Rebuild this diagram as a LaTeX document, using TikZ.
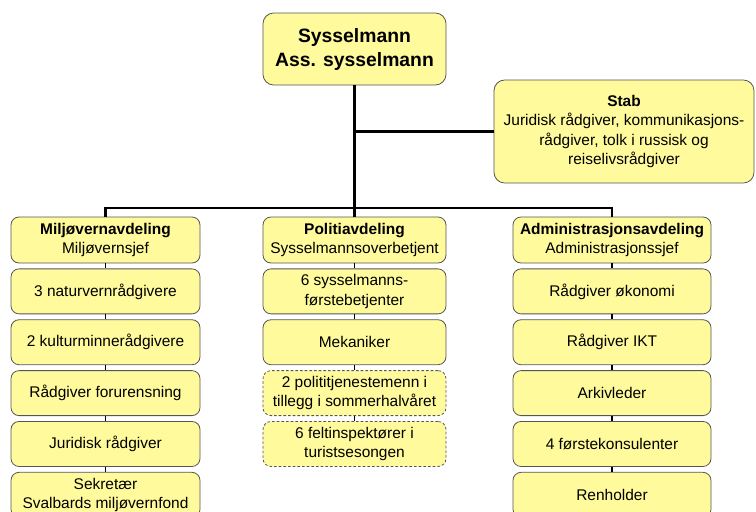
\documentclass[tikz,border=0pt]{standalone}
\usepackage{fontspec}
\setmainfont{Liberation Sans}
\usetikzlibrary{positioning}
\definecolor{boxyellow}{RGB}{255,250,155}
\definecolor{boxline}{RGB}{85,85,85}
\tikzset{
thick,
node distance=3.8pt,
every node/.style={font=\fontsize{11.6}{14.6}\selectfont},
}

\begin{document}
\begin{tikzpicture}
    [x=0.75pt, y=-0.75pt,
    block/.style={rectangle, rounded corners=6pt, draw=boxline, line width=0.6pt, fill=boxyellow, align=center, inner sep=1.5pt, minimum height=33.75pt},
    leftbox/.style={block, minimum width=141.75pt},
    midbox/.style={block, minimum width=137.25pt},
    rightbox/.style={block, minimum width=148.5pt},
    head/.style={minimum height=34.5pt},
    extra/.style={dash pattern=on 2pt off 1.5pt},
    trunk/.style={line width=1.6pt},
    link/.style={line width=1.1pt}
    ]

    \useasboundingbox (0,0) rectangle (756,511);
    \clip (0,0) rectangle (756,511);

    % top of the chart
    \node [block, rounded corners=8pt, minimum width=137.25pt, minimum height=54pt,
        font=\fontsize{14.5}{18}\selectfont\bfseries] (chief) at (354.5,49)
    {
        Sysselmann
        \\
        Ass. sysselmann
    };

    \node [block, rounded corners=8pt, minimum width=195pt, minimum height=77.25pt] (stab) at (624,131.5)
    {
        \textbf{Stab}
        \\
        Juridisk rådgiver, kommunikasjons-
        \\
        rådgiver, tolk i russisk og
        \\
        reiselivsrådgiver
    };

    % departments
    \node [leftbox, head] (milj) at (105.5,240)
    {
        \textbf{Miljøvernavdeling}
        \\
        Miljøvernsjef
    };

    \node [midbox, head] (poli) at (354.5,240)
    {
        \textbf{Politiavdeling}
        \\
        Sysselmannsoverbetjent
    };

    \node [rightbox, head] (adm) at (612,240)
    {
        \textbf{Administrasjonsavdeling}
        \\
        Administrasjonssjef
    };

    % Miljøvernavdeling
    \node [leftbox] (milj1) [below=of milj] {3 naturvernrådgivere};
    \node [leftbox] (milj2) [below=of milj1] {2 kulturminnerådgivere};
    \node [leftbox] (milj3) [below=of milj2] {Rådgiver forurensning};
    \node [leftbox] (milj4) [below=of milj3] {Juridisk rådgiver};
    \node [leftbox] (milj5) [below=of milj4]
    {
        Sekretær
        \\
        Svalbards miljøvernfond
    };

    % Politiavdeling
    \node [midbox] (poli1) [below=of poli]
    {
        6 sysselmanns-
        \\
        førstebetjenter
    };
    \node [midbox] (poli2) [below=of poli1] {Mekaniker};
    \node [midbox, extra] (poli3) [below=of poli2]
    {
        2 polititjenestemenn i
        \\
        tillegg i sommerhalvåret
    };
    \node [midbox, extra] (poli4) [below=of poli3]
    {
        6 feltinspektører i
        \\
        turistsesongen
    };

    % Administrasjonsavdeling
    \node [rightbox] (adm1) [below=of adm] {Rådgiver økonomi};
    \node [rightbox] (adm2) [below=of adm1] {Rådgiver IKT};
    \node [rightbox] (adm3) [below=of adm2] {Arkivleder};
    \node [rightbox] (adm4) [below=of adm3] {4 førstekonsulenter};
    \node [rightbox] (adm5) [below=of adm4] {Renholder};

    \coordinate (bus) at (354.5,208);

    \draw[trunk] (chief.south) -- (poli.north);
    \draw[trunk] (stab.west) -- (stab.west -| chief.south);
    \draw[trunk] (milj.north) |- (bus) -| (adm.north);

    \foreach \a/\b in {milj/milj1, milj1/milj2, milj2/milj3, milj3/milj4, milj4/milj5,
                       poli/poli1, poli1/poli2, poli2/poli3, poli3/poli4,
                       adm/adm1, adm1/adm2, adm2/adm3, adm3/adm4, adm4/adm5}
        \draw[link] (\a.south) -- (\b.north);

\end{tikzpicture}
\end{document}
